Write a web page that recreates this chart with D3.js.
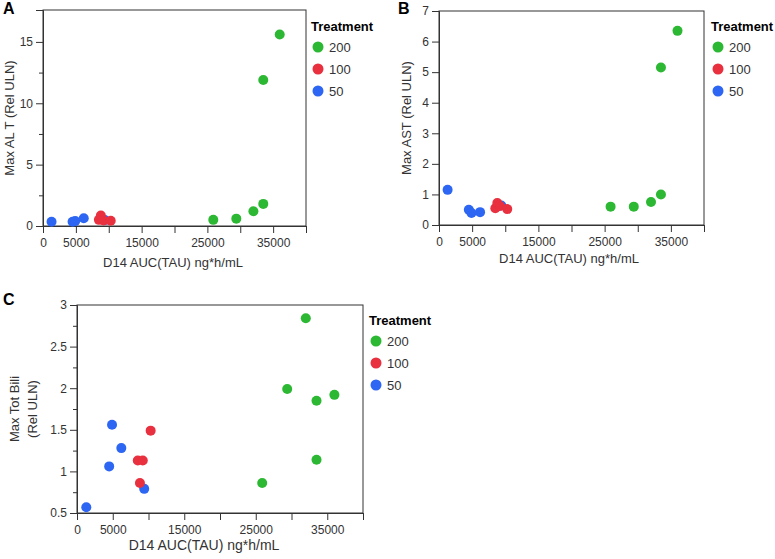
<!DOCTYPE html>
<html>
<head>
<script src="https://d3js.org/d3.v7.min.js" charset="utf-8"></script>
<style>
    body { margin: 0; background: #fff; }
    svg { font-family: "Liberation Sans", Arial, sans-serif; }
    .tick text { fill: #333; font-size: 12px; }
    .domain, .tick line { stroke: #333; }
</style>
</head>
<body>
<script>
    // Treatment groups (dose) and their colours
    var treatments = ["200", "100", "50"];
    var colors = ["#2db834", "#e8303f", "#2d66f2"];

    // D14 AUC(TAU) ng*h/mL per subject
    var auc200 = [25900, 29400, 32000, 33500, 33500, 36000];
    var auc100 = [8500, 8800, 9200, 10300];
    var auc50  = [1300, 4500, 4900, 6200, 9400];

    // Max ALT (Rel ULN)
    var alt200 = [0.5, 0.6, 1.2, 1.8, 11.9, 15.6];
    var alt100 = [0.5, 0.85, 0.45, 0.43];
    var alt50  = [0.35, 0.35, 0.4, 0.63, 0.48];

    // Max AST (Rel ULN)
    var ast200 = [0.6, 0.6, 0.75, 1.0, 5.15, 6.35];
    var ast100 = [0.55, 0.72, 0.62, 0.52];
    var ast50  = [1.15, 0.5, 0.39, 0.42, 0.64];

    // Max Tot Bili (Rel ULN)
    var bili200 = [0.86, 1.99, 2.84, 1.85, 1.14, 1.92];
    var bili100 = [1.13, 0.86, 1.13, 1.49];
    var bili50  = [0.57, 1.06, 1.56, 1.28, 0.79];

    var xTickLabels = [0, 5000, 15000, 25000, 35000];

    function rows(x, y, g) {
        return x.map(function(v, i) { return {x: v, y: y[i], g: g}; });
    }

    var svg = d3.select("body").append("svg")
        .attr("width", 775)
        .attr("height", 559);

    function panel(p) {
        var g = svg.append("g").attr("transform", "translate(" + p.left + "," + p.top + ")");

        var x = d3.scaleLinear().domain([0, 40000]).range([0, p.w]);
        var y = d3.scaleLinear().domain(p.yDomain).range([p.h, 0]);

        // frame
        g.append("rect")
            .attr("width", p.w).attr("height", p.h)
            .attr("fill", "none").attr("stroke", "#333");

        // x axis
        var xa = g.append("g").attr("transform", "translate(0," + p.h + ")")
            .call(d3.axisBottom(x).tickValues(d3.range(0, 40001, 5000)).tickSize(7)
                .tickFormat(function(d) { return xTickLabels.indexOf(d) >= 0 ? d : ""; }));
        xa.selectAll(".tick text").attr("dy", "0.9em");

        // y minor ticks
        if (p.yMinor) {
            g.append("g").call(d3.axisLeft(y).tickValues(p.yMinor).tickSize(4).tickFormat(""))
                .select(".domain").remove();
        }
        g.append("g").call(d3.axisLeft(y).tickValues(p.yTicks).tickSize(7)
            .tickFormat(function(d) { return String(d); }));

        // x title
        g.append("text")
            .attr("x", p.xTitleX).attr("y", p.h + p.xTitleDy)
            .attr("text-anchor", "middle")
            .attr("font-size", p.xTitleSize)
            .attr("fill", "#333")
            .text("D14 AUC(TAU) ng*h/mL");

        // y title (one text per line)
        p.yTitle.forEach(function(t, i) {
            g.append("text")
                .attr("transform", "translate(" + p.yTitleX[i] + "," + (p.h / 2) + ") rotate(-90)")
                .attr("text-anchor", "middle")
                .attr("dy", "0.35em")
                .attr("font-size", 13)
                .attr("fill", "#333")
                .text(t);
        });

        // points
        var data = rows(auc50, p.y50, 2).concat(rows(auc100, p.y100, 1), rows(auc200, p.y200, 0));
        g.selectAll("circle.pt").data(data).enter().append("circle")
            .attr("class", "pt")
            .attr("cx", function(d) { return x(d.x); })
            .attr("cy", function(d) { return y(d.y); })
            .attr("r", 5)
            .attr("fill", function(d) { return colors[d.g]; });

        // panel letter
        svg.append("text")
            .attr("x", p.letterX).attr("y", p.letterY)
            .attr("font-size", 16).attr("font-weight", "bold")
            .text(p.letter);

        // legend
        var lg = svg.append("g").attr("transform", "translate(" + p.legX + "," + p.legY + ")");
        lg.append("text").attr("x", 0).attr("y", 0).attr("dy", "0.35em")
            .attr("font-size", 13).attr("font-weight", "bold").text("Treatment");
        treatments.forEach(function(t, i) {
            lg.append("circle").attr("cx", 7).attr("cy", 21 + i * 22).attr("r", 5.5).attr("fill", colors[i]);
            lg.append("text").attr("x", 18).attr("y", 21 + i * 22).attr("dy", "0.35em")
                .attr("font-size", 13).attr("fill", "#333").text(t);
        });
    }

    panel({
        left: 43, top: 10, w: 263, h: 216,
        yDomain: [0, 17.6], yTicks: [0, 5, 10, 15], yMinor: [2.5, 7.5, 12.5],
        y200: alt200, y100: alt100, y50: alt50,
        yTitle: ["Max AL T (Rel ULN)"], yTitleX: [-34],
        xTitleX: 130, xTitleSize: 13, xTitleDy: 41,
        letter: "A", letterX: 3, letterY: 14,
        legX: 311, legY: 26
    });

    panel({
        left: 439, top: 11, w: 265, h: 214,
        yDomain: [0, 7], yTicks: [0, 1, 2, 3, 4, 5, 6, 7], yMinor: null,
        y200: ast200, y100: ast100, y50: ast50,
        yTitle: ["Max AST (Rel ULN)"], yTitleX: [-33],
        xTitleX: 130, xTitleSize: 13, xTitleDy: 38,
        letter: "B", letterX: 398, letterY: 14,
        legX: 711, legY: 26
    });

    panel({
        left: 77, top: 305, w: 286, h: 208,
        yDomain: [0.5, 3], yTicks: [0.5, 1, 1.5, 2, 2.5, 3], yMinor: [0.75, 1.25, 1.75, 2.25, 2.75],
        y200: bili200, y100: bili100, y50: bili50,
        yTitle: ["Max Tot Bili", "(Rel ULN)"], yTitleX: [-63, -45],
        xTitleX: 127, xTitleSize: 14, xTitleDy: 37,
        letter: "C", letterX: 3, letterY: 305,
        legX: 369, legY: 320
    });
</script>
</body>
</html>
